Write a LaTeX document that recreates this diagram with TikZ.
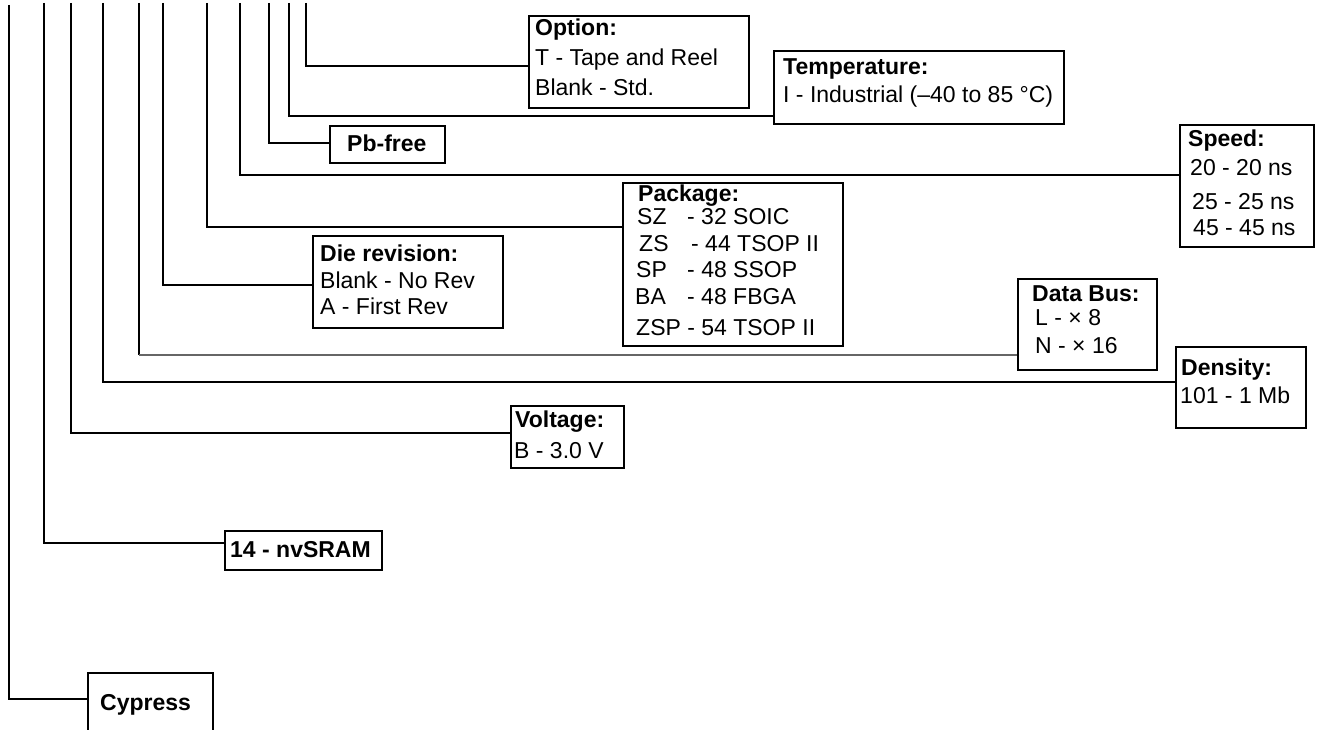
\documentclass[tikz,border=0pt]{standalone}
\usepackage{fontspec}
\setmainfont{Liberation Sans}
\begin{document}
\begin{tikzpicture}[x=1pt,y=-1pt,
  box/.style={draw, line width=2pt, inner sep=0pt, anchor=north west},
  wire/.style={line width=2pt},
  thinwire/.style={line width=1.4pt, draw=black!60},
  txt/.style={anchor=base west, inner sep=0pt, font=\fontsize{23}{28}\selectfont},
  hd/.style={anchor=base west, inner sep=0pt, font=\fontsize{23}{28}\selectfont\bfseries}]
\useasboundingbox (0,0) rectangle (1319,730);

% boxes
\node[box, minimum width=220pt, minimum height=92pt]  (opt)  at (528,15) {};
\node[box, minimum width=290pt, minimum height=73pt]  (temp) at (773,50) {};
\node[box, minimum width=115pt, minimum height=37pt]  (pb)   at (329,125) {};
\node[box, minimum width=134pt, minimum height=122pt] (spd)  at (1179,124) {};
\node[box, minimum width=220pt, minimum height=163pt] (pkg)  at (622,182) {};
\node[box, minimum width=190pt, minimum height=92pt]  (die)  at (312,235) {};
\node[box, minimum width=139pt, minimum height=91pt]  (bus)  at (1017,278) {};
\node[box, minimum width=130pt, minimum height=81pt]  (dens) at (1175,346) {};
\node[box, minimum width=113pt, minimum height=62pt]  (volt) at (510,405) {};
\node[box, minimum width=157pt, minimum height=39pt]  (nv)   at (224,530) {};
\node[box, minimum width=125pt, minimum height=90pt]  (cyp)  at (87,672) {};

% texts
\node[hd]  (optH) at (535,36) {Option:};
\node[txt] (opt1) at (535,66) {T - Tape and Reel};
\node[txt] (opt2) at (535,96) {Blank - Std.};

\node[hd]  (tempH) at (783,75) {Temperature:};
\node[txt] (temp1) at (783,103) {I - Industrial (–40 to 85~°C)};

\node[hd]  (pbH) at (347,152) {Pb-free};

\node[hd]  (spdH) at (1188,147) {Speed:};
\node[txt] (spd1) at (1190,176) {20 - 20 ns};
\node[txt] (spd2) at (1192,209) {25 - 25 ns};
\node[txt] (spd3) at (1193,235) {45 - 45 ns};

\node[hd]  (pkgH) at (638,201) {Package:};
\node[txt] (pkg1) at (637,224) {\makebox[50pt][l]{SZ}- 32 SOIC};
\node[txt] (pkg2) at (639,251) {\makebox[52pt][l]{ZS}- 44 TSOP II};
\node[txt] (pkg3) at (636,277) {\makebox[51pt][l]{SP}- 48 SSOP};
\node[txt] (pkg4) at (635,304) {\makebox[52pt][l]{BA}- 48 FBGA};
\node[txt] (pkg5) at (636,335) {ZSP - 54 TSOP II};

\node[hd]  (dieH) at (320,261) {Die revision:};
\node[txt] (die1) at (320,288) {Blank - No Rev};
\node[txt] (die2) at (320,314) {A - First Rev};

\node[hd]  (busH) at (1032,301) {Data Bus:};
\node[txt] (bus1) at (1035,325) {L - × 8};
\node[txt] (bus2) at (1035,353) {N - × 16};

\node[hd]  (densH) at (1181,375) {Density:};
\node[txt] (dens1) at (1180,403) {101 - 1 Mb};

\node[hd]  (voltH) at (515,427) {Voltage:};
\node[txt] (volt1) at (514,458) {B - 3.0 V};

\node[hd]  (nvH) at (230,557) {14 - nvSRAM};
\node[hd]  (cypH) at (100,710) {Cypress};

% tops of the vertical leads
\coordinate (tA) at (9,5);
\coordinate (tB) at (44,3);
\coordinate (tC) at (71,3);
\coordinate (tD) at (103,3);
\coordinate (tE) at (139,3);
\coordinate (tF) at (163,3);
\coordinate (tG) at (207,3);
\coordinate (tH) at (240,3);
\coordinate (tI) at (269,3);
\coordinate (tJ) at (289,3);
\coordinate (tK) at (306,3);

% connectors
\draw[wire] (tK) |- ([yshift=-51pt]opt.north west);
\draw[wire] (tJ) |- ([yshift=-66pt]temp.north west);
\draw[wire] (tI) |- ([yshift=-18pt]pb.north west);
\draw[wire] (tH) |- ([yshift=-51pt]spd.north west);
\draw[wire] (tG) |- ([yshift=-45pt]pkg.north west);
\draw[wire] (tF) |- ([yshift=-50pt]die.north west);
\draw[wire] (tE) -- (tE |- 0,355);
\draw[thinwire] (tE |- 0,355) -- ([yshift=-77pt]bus.north west);
\draw[wire] (tD) |- ([yshift=-36pt]dens.north west);
\draw[wire] (tC) |- ([yshift=-28pt]volt.north west);
\draw[wire] (tB) |- ([yshift=-13pt]nv.north west);
\draw[wire] (tA) |- ([yshift=-27pt]cyp.north west);
\end{tikzpicture}
\end{document}
